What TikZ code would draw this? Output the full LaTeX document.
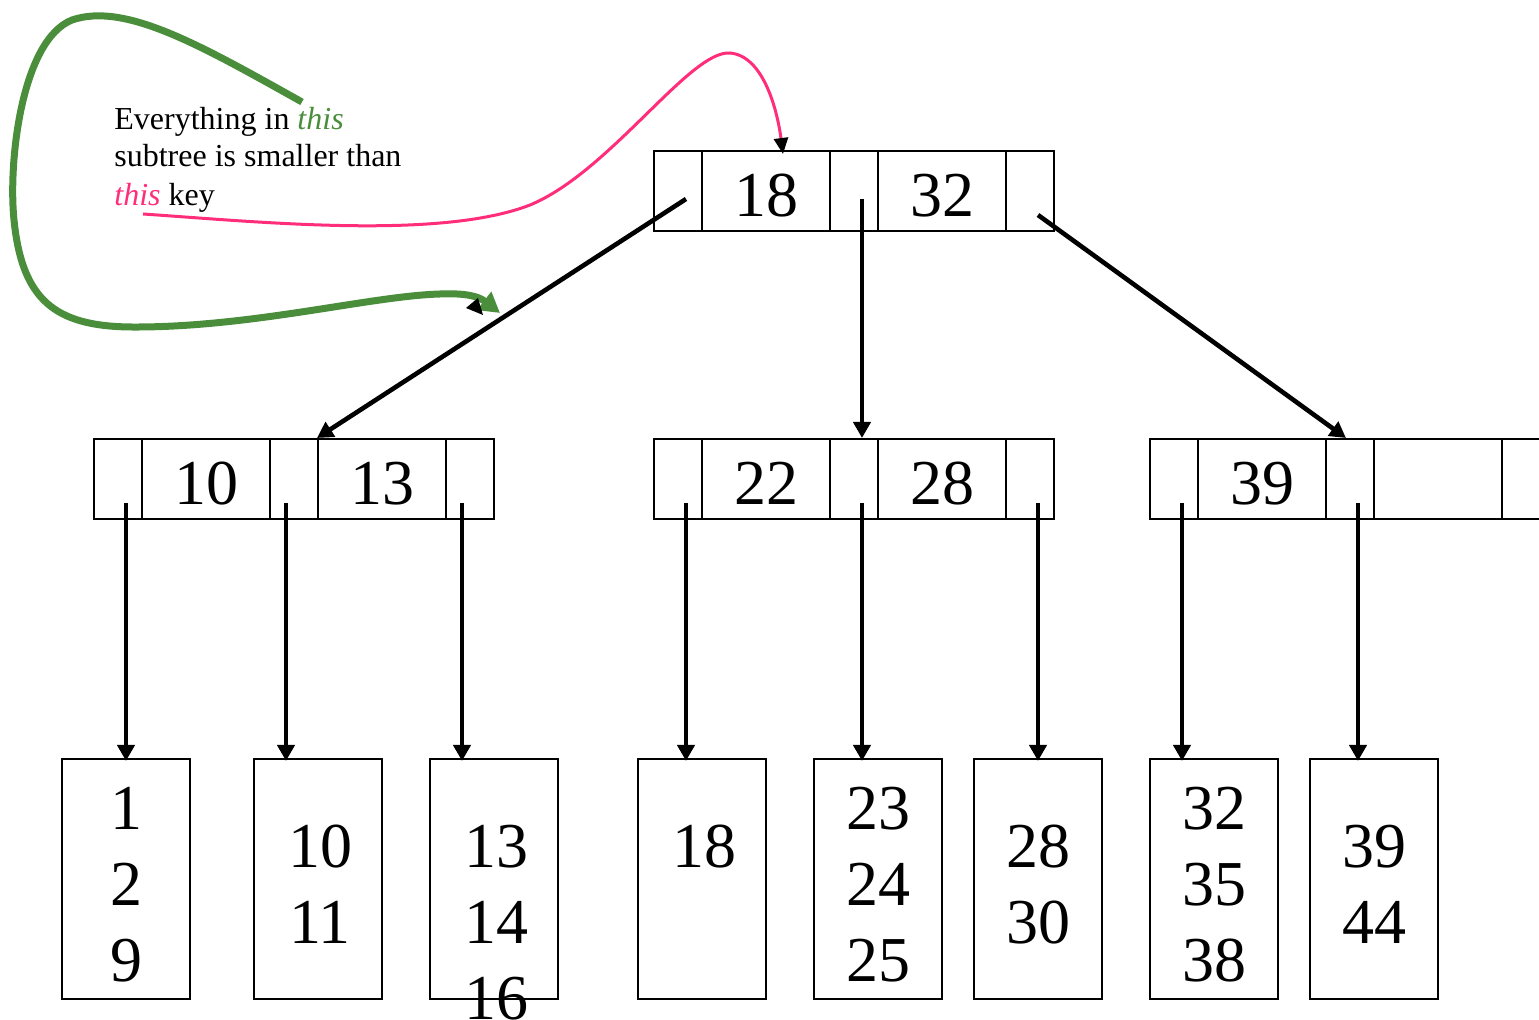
\documentclass[tikz,border=0pt]{standalone}
\usepackage{fontspec}
\setmainfont{Liberation Serif}
\usetikzlibrary{arrows.meta}
\definecolor{annGreen}{RGB}{74,142,60}
\definecolor{annPink}{RGB}{255,45,122}
\tikzset{
  cellp/.style={draw, line width=1pt, minimum width=24pt, minimum height=40pt, inner sep=0pt, text height=25.6pt, text depth=0pt, font=\fontsize{32}{38}\selectfont},
  cellk/.style={cellp, minimum width=64pt},
  leafbox/.style={draw, line width=1pt, minimum width=64pt, minimum height=120pt, inner sep=0pt},
  leafnum/.style={anchor=base, inner sep=0pt, font=\fontsize{32}{38}\selectfont},
  ptr/.style={line width=2.3pt, -{Triangle[length=8pt,width=8.5pt]}},
  ann/.style={anchor=base west, inner sep=0pt, font=\fontsize{16}{18.5}\selectfont},
}
\begin{document}
\begin{tikzpicture}[x=0.5pt,y=-0.5pt]
\useasboundingbox (0,0) rectangle (1539,1020);
% top node
\node[cellp] (t0) at (678,191) {};
\node[cellk] (t1) at (766,191) {18};
\node[cellp] (t2) at (854,191) {};
\node[cellk] (t3) at (942,191) {32};
\node[cellp] (t4) at (1030,191) {};
% level-2 left
\node[cellp] (a0) at (118,479) {};
\node[cellk] (a1) at (206,479) {10};
\node[cellp] (a2) at (294,479) {};
\node[cellk] (a3) at (382,479) {13};
\node[cellp] (a4) at (470,479) {};
% level-2 middle
\node[cellp] (b0) at (678,479) {};
\node[cellk] (b1) at (766,479) {22};
\node[cellp] (b2) at (854,479) {};
\node[cellk] (b3) at (942,479) {28};
\node[cellp] (b4) at (1030,479) {};
% level-2 right
\node[cellp] (c0) at (1174,479) {};
\node[cellk] (c1) at (1262,479) {39};
\node[cellp] (c2) at (1350,479) {};
\node[cellk] (c3) at (1438,479) {};
\node[cellp] (c4) at (1526,479) {};
% leaves
\node[leafbox] (L1) at (126,879) {};
\node[leafbox] (L2) at (318,879) {};
\node[leafbox] (L3) at (494,879) {};
\node[leafbox] (L4) at (702,879) {};
\node[leafbox] (L5) at (878,879) {};
\node[leafbox] (L6) at (1038,879) {};
\node[leafbox] (L7) at (1214,879) {};
\node[leafbox] (L8) at (1374,879) {};
% leaf numbers
\node[leafnum] (n11) at (126,830) {1};
\node[leafnum] (n12) at (126,906) {2};
\node[leafnum] (n13) at (126,982) {9};
\node[leafnum] (n21) at (320,868) {10};
\node[leafnum] (n22) at (320,944) {11};
\node[leafnum] (n31) at (496,868) {13};
\node[leafnum] (n32) at (496,944) {14};
\node[leafnum] (n33) at (496,1020) {16};
\node[leafnum] (n41) at (704,868) {18};
\node[leafnum] (n51) at (878,830) {23};
\node[leafnum] (n52) at (878,906) {24};
\node[leafnum] (n53) at (878,982) {25};
\node[leafnum] (n61) at (1038,868) {28};
\node[leafnum] (n62) at (1038,944) {30};
\node[leafnum] (n71) at (1214,830) {32};
\node[leafnum] (n72) at (1214,906) {35};
\node[leafnum] (n73) at (1214,982) {38};
\node[leafnum] (n81) at (1374,868) {39};
\node[leafnum] (n82) at (1374,944) {44};
% pointer start points
\coordinate (pt0) at ([xshift=4pt,yshift=-4pt]t0.center);
\coordinate (pt2) at ([xshift=4pt,yshift=-4pt]t2.center);
\coordinate (pt4) at ([xshift=4pt,yshift=-12pt]t4.center);
\foreach \n in {a0,b0,b2,b4,c0,c2}{
  \coordinate (p\n) at ([xshift=4pt,yshift=-12pt]\n.center);
}
\foreach \n in {a2,a4}{
  \coordinate (p\n) at ([xshift=-4pt,yshift=-12pt]\n.center);
}
% top arrows
\draw[ptr] (pt0) -- (a3.north west);
\draw[ptr] (pt2) -- (pt2 |- b2.north);
\draw[ptr] (pt4) -- ([xshift=-2pt]c2.north);
% level-2 arrows
\draw[ptr] (pa0) -- ([yshift=-1.5pt]pa0 |- L1.north);
\draw[ptr] (pa2) -- ([yshift=-1.5pt]pa2 |- L2.north);
\draw[ptr] (pa4) -- ([yshift=-1.5pt]pa4 |- L3.north);
\draw[ptr] (pb0) -- ([yshift=-1.5pt]pb0 |- L4.north);
\draw[ptr] (pb2) -- ([yshift=-1.5pt]pb2 |- L5.north);
\draw[ptr] (pb4) -- ([yshift=-1.5pt]pb4 |- L6.north);
\draw[ptr] (pc0) -- ([yshift=-1.5pt]pc0 |- L7.north);
\draw[ptr] (pc2) -- ([yshift=-1.5pt]pc2 |- L8.north);
% annotation text
\node[ann] (ann1) at (114,130) {Everything in \textcolor{annGreen}{\textit{this}}};
\node[ann] (ann2) at (114,167) {subtree is smaller than};
\node[ann] (ann3) at (114,206) {\textcolor{annPink}{\textit{this}} key};
% green annotation arrow
\coordinate (gs) at (302,102);
\coordinate (ge) at (500,313);
\draw[annGreen, line width=3.5pt, line cap=butt, -{Triangle[length=10pt,width=11pt]}]
  (gs) .. controls (200,45) and (125,2) .. (72,20)
  .. controls (22,40) and (8,160) .. (14,220)
  .. controls (22,300) and (55,326) .. (130,327)
  .. controls (250,328) and (370,296) .. (440,294)
  .. controls (465,293) and (478,296) .. (ge);
\fill[black] (466,308) -- (478,298) -- (483,315) -- cycle;
% pink annotation arrow
\coordinate (ps) at (143,214);
\draw[annPink, line width=1.5pt, -{Triangle[length=8pt,width=7pt,color=black]}]
  (ps) .. controls (260,222) and (440,240) .. (530,205)
  .. controls (610,172) and (690,50) .. (730,53)
  .. controls (765,56) and (778,115) .. ([yshift=-2pt]t1.north -| 783,0);
\end{tikzpicture}
\end{document}
